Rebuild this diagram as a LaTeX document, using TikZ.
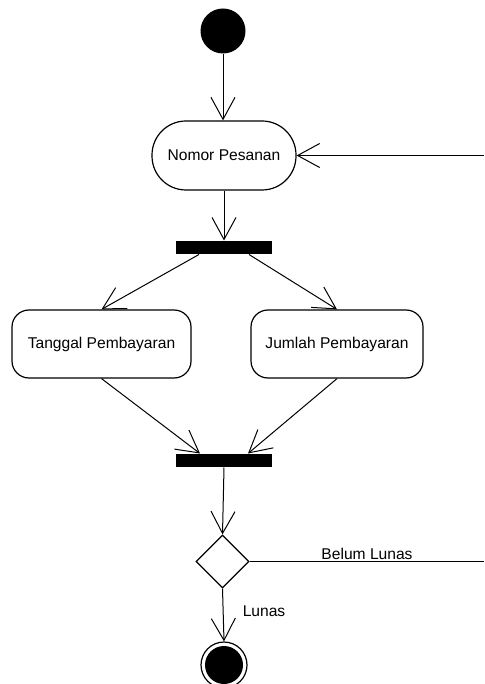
\documentclass[tikz,border=0pt]{standalone}
\usepackage{fontspec}
\setmainfont{Liberation Sans}
\usetikzlibrary{arrows.meta,shapes.geometric}
\begin{document}
\begin{tikzpicture}[x=1pt,y=-1pt,
  line width=1pt,
  arr/.style={-{Straight Barb[length=22pt,width=24pt,line width=1pt]}},
  act/.style={draw,line width=1.2pt,fill=white,inner sep=0pt,minimum height=68pt,font=\fontsize{15.6}{18}\selectfont},
  bar/.style={fill=black,inner sep=0pt,minimum width=96pt,minimum height=13pt},
  lbl/.style={inner sep=0pt,font=\fontsize{15.6}{18}\selectfont}
]
\useasboundingbox (0,0) rectangle (484,684);
\clip (0,0) rectangle (484,684);
\node[circle,fill=black,inner sep=0pt,minimum size=45pt] (start) at (223,31) {};
\node[act,rounded corners=34pt,minimum width=144pt,minimum height=69pt] (nomor) at (224,155.5) {Nomor Pesanan};
\node[bar] (fork1) at (224,247.5) {};
\node[act,rounded corners=17pt,minimum width=179pt] (tang) at (101.5,344) {Tanggal Pembayaran};
\node[act,rounded corners=17pt,minimum width=172pt] (jum) at (337,344) {Jumlah Pembayaran};
\node[bar] (join) at (224,460.5) {};
\node[diamond,draw,line width=1.2pt,fill=white,inner sep=0pt,minimum size=53pt] (dec) at (222.5,561.5) {};
\node[circle,draw,line width=1.2pt,fill=white,inner sep=0pt,minimum size=46pt] (final) at (224,665) {};
\node[circle,fill=black,inner sep=0pt,minimum size=38pt] (finalin) at (224,665) {};
\coordinate (re) at (484,155.5);
\coordinate (rb) at (484,561.5);
\node[lbl] (belum) at (367,554) {Belum Lunas};
\node[lbl] (lunas) at (264,611) {Lunas};
\draw[arr] (start.south) -- (start.south |- nomor.north);
\draw[arr] (re) -- (nomor.east);
\draw[arr] (nomor.south) -- (fork1.north);
\draw[arr] ([xshift=-25pt]fork1.south) -- (tang.north);
\draw[arr] ([xshift=25pt]fork1.south) -- (jum.north);
\draw[arr] (tang.south) -- ([xshift=-24pt]join.north);
\draw[arr] (jum.south) -- ([xshift=24pt]join.north);
\draw[arr] (join.south) -- (dec.north);
\draw (dec.east) -- (rb);
\draw[arr] (dec.south) -- (final.north);
\end{tikzpicture}
\end{document}
